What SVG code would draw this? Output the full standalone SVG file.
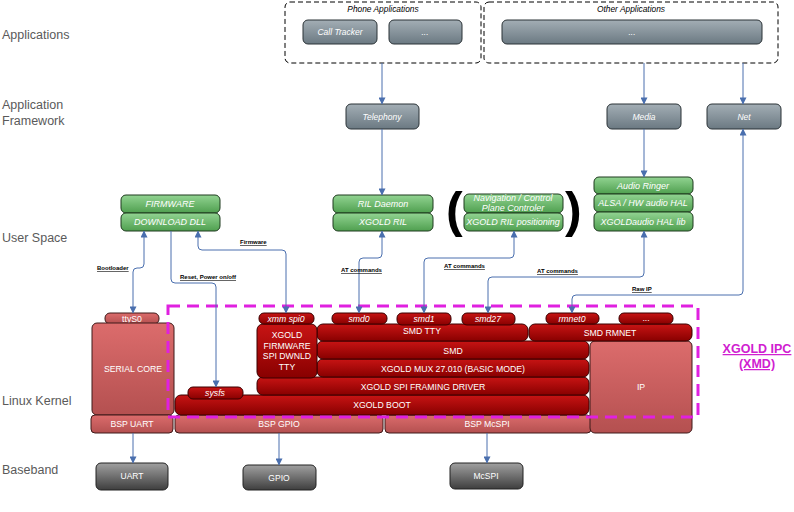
<svg xmlns="http://www.w3.org/2000/svg" width="794" height="512" viewBox="0 0 794 512">
<defs>
<linearGradient id="gApp" x1="0" y1="0" x2="0" y2="1"><stop offset="0" stop-color="#a3aeb5"/><stop offset="1" stop-color="#6b7982"/></linearGradient>
<linearGradient id="gGreen" x1="0" y1="0" x2="0" y2="1"><stop offset="0" stop-color="#92d492"/><stop offset="1" stop-color="#4f9f4f"/></linearGradient>
<linearGradient id="gDark" x1="0" y1="0" x2="0" y2="1"><stop offset="0" stop-color="#c81414"/><stop offset="1" stop-color="#880000"/></linearGradient>
<linearGradient id="gLight" x1="0" y1="0" x2="0" y2="1"><stop offset="0" stop-color="#dc6c6c"/><stop offset="1" stop-color="#b45050"/></linearGradient>
<linearGradient id="gBase" x1="0" y1="0" x2="0" y2="1"><stop offset="0" stop-color="#a0a0a0"/><stop offset="1" stop-color="#3e3e3e"/></linearGradient>
<marker id="ah" viewBox="0 0 8 8" refX="7.5" refY="4" markerWidth="7" markerHeight="7" orient="auto-start-reverse" markerUnits="userSpaceOnUse"><path d="M0,0 L8,4 L0,8 Z" fill="#4a6fae"/></marker>
</defs>
<style>
.lay{font-family:"Liberation Sans",Arial,sans-serif;font-size:12.5px;fill:#5a5a5a}
.app rect{fill:url(#gApp);stroke:#2a3236;stroke-width:1}
.app text{font-family:"Liberation Sans",Arial,sans-serif;font-size:8.5px;font-style:italic;fill:#fff;text-anchor:middle}
.grn rect{fill:url(#gGreen);stroke:#1e3a1e;stroke-width:1}
.grn text{font-family:"Liberation Sans",Arial,sans-serif;font-size:9px;font-style:italic;fill:#fff;text-anchor:middle}
.dk rect{fill:url(#gDark);stroke:#3a0000;stroke-width:1}
.lt rect{fill:url(#gLight);stroke:#3e1a1a;stroke-width:1}
.dk text,.lt text{font-family:"Liberation Sans",Arial,sans-serif;font-size:8.7px;fill:#fff;text-anchor:middle}
.it{font-style:italic}
.bb rect{fill:url(#gBase);stroke:#222;stroke-width:1}
.bb text{font-family:"Liberation Sans",Arial,sans-serif;font-size:8.5px;fill:#fff;text-anchor:middle}
.grp rect{fill:none;stroke:#000;stroke-width:1;stroke-dasharray:5 3}
.grp text{font-family:"Liberation Sans",Arial,sans-serif;font-size:8.4px;font-style:italic;fill:#000;text-anchor:middle}
.con path{fill:none;stroke:#4a6fae;stroke-width:1}
.cl{font-family:"Liberation Sans",Arial,sans-serif;font-size:6px;font-weight:bold;fill:#000;text-decoration:underline}
.par{font-family:"Liberation Sans",Arial,sans-serif;font-size:50px;font-weight:bold;fill:#000}
</style>
<rect width="794" height="512" fill="#fff"/>
<!-- layer labels -->
<text class="lay" x="2" y="39">Applications</text>
<text class="lay" x="2" y="109">Application</text>
<text class="lay" x="2" y="125">Framework</text>
<text class="lay" x="2" y="242">User Space</text>
<text class="lay" x="2" y="405">Linux Kernel</text>
<text class="lay" x="2" y="474">Baseband</text>

<!-- application groups -->
<g id="phone-applications" class="grp"><rect x="285" y="2" width="196" height="61" rx="5"/><text x="383" y="12">Phone Applications</text></g>
<g id="other-applications" class="grp"><rect x="484" y="2" width="294" height="61" rx="5"/><text x="631" y="12">Other Applications</text></g>
<g id="call-tracker" class="app"><rect x="303" y="20" width="74" height="24" rx="5"/><text x="340" y="35">Call Tracker</text></g>
<g id="phone-more" class="app"><rect x="389" y="20" width="73" height="24" rx="5"/><text x="425" y="35">...</text></g>
<g id="other-more" class="app"><rect x="502" y="20" width="260" height="24" rx="5"/><text x="632" y="35">...</text></g>
<g id="telephony" class="app"><rect x="346" y="104" width="73" height="25" rx="5"/><text x="382" y="120">Telephony</text></g>
<g id="media" class="app"><rect x="607" y="104" width="74" height="25" rx="5"/><text x="644" y="120">Media</text></g>
<g id="net" class="app"><rect x="707" y="104" width="74" height="25" rx="5"/><text x="744" y="120">Net</text></g>

<!-- user space -->
<g id="firmware-download-dll" class="grn">
<rect x="121" y="195" width="99" height="18" rx="5"/><text x="170" y="207">FIRMWARE</text>
<rect x="121" y="213" width="99" height="18" rx="5"/><text x="170" y="225">DOWNLOAD DLL</text>
</g>
<g id="xgold-ril" class="grn">
<rect x="333" y="195" width="100" height="18" rx="5"/><text x="383" y="207">RIL Daemon</text>
<rect x="333" y="213" width="100" height="18" rx="5"/><text x="383" y="225">XGOLD RIL</text>
</g>
<g id="ril-positioning" class="grn">
<rect x="464" y="194" width="99" height="19" rx="5"/><text x="513" y="200.5" font-size="8">Navigation / Control</text><text x="513" y="210.5" font-size="8">Plane Controler</text>
<rect x="464" y="213" width="99" height="18" rx="5"/><text x="513" y="225">XGOLD RIL positioning</text>
</g>
<text class="par" x="446" y="227">(</text>
<text class="par" x="565" y="227">)</text>
<g id="audio" class="grn">
<rect x="594" y="177" width="99" height="17" rx="5"/><text x="643" y="188.5">Audio Ringer</text>
<rect x="594" y="194" width="99" height="18" rx="5"/><text x="643" y="206">ALSA  / HW audio HAL</text>
<rect x="594" y="212" width="99" height="19" rx="5"/><text x="643" y="224.5">XGOLDaudio  HAL lib</text>
</g>

<!-- kernel -->
<g id="ttys0" class="lt"><rect x="105" y="313" width="54" height="11" rx="5"/><text x="132" y="321.5">ttyS0</text></g>
<g id="serial-core" class="lt"><rect x="92" y="323" width="82" height="92" rx="5"/><text x="133" y="372">SERIAL CORE</text></g>
<g id="bsp-uart" class="lt"><rect x="91" y="415" width="82" height="18" rx="4"/><text x="132" y="427">BSP UART</text></g>
<g id="bsp-gpio" class="lt"><rect x="175" y="415" width="208" height="18" rx="4"/><text x="279" y="427">BSP GPIO</text></g>
<g id="bsp-mcspi" class="lt"><rect x="385" y="415" width="206" height="18" rx="4"/><text x="487" y="427">BSP McSPI</text></g>
<g id="ip" class="lt"><rect x="590" y="341" width="102" height="92" rx="5"/><text x="641" y="390">IP</text></g>

<g id="xgold-boot" class="dk"><rect x="175" y="395" width="414" height="20" rx="6"/><text x="382" y="408">XGOLD BOOT</text></g>
<g id="sysfs" class="dk"><rect x="188" y="387" width="55" height="12" rx="5"/><text class="it" x="215" y="396">sysfs</text></g>
<g id="xgold-spi-framing" class="dk"><rect x="257" y="377" width="332" height="18" rx="6"/><text x="423" y="389.5">XGOLD SPI FRAMING DRIVER</text></g>
<g id="xgold-mux" class="dk"><rect x="317" y="359" width="272" height="18" rx="6"/><text x="453" y="371.5">XGOLD MUX 27.010 (BASIC MODE)</text></g>
<g id="smd" class="dk"><rect x="317" y="341" width="272" height="18" rx="6"/><text x="453" y="353.5">SMD</text></g>
<g id="smd-tty" class="dk"><rect x="317" y="324" width="211" height="17" rx="6"/><text x="422" y="334">SMD TTY</text></g>
<g id="smd-rmnet" class="dk"><rect x="529" y="324" width="163" height="17" rx="6"/><text x="610" y="335.5">SMD RMNET</text></g>
<g id="firmware-spi-tty" class="dk"><rect x="257" y="324" width="60" height="54" rx="6"/><text x="287" y="338">XGOLD</text><text x="287" y="348.5">FIRMWARE</text><text x="287" y="359">SPI DWNLD</text><text x="287" y="369.5">TTY</text></g>
<g id="xmm-spi0" class="dk"><rect x="259" y="313" width="55" height="11" rx="5"/><text class="it" x="286" y="321.5">xmm spi0</text></g>
<g id="smd0" class="dk"><rect x="332" y="313" width="55" height="11" rx="5"/><text class="it" x="359" y="321.5">smd0</text></g>
<g id="smd1" class="dk"><rect x="397" y="313" width="54" height="12" rx="5"/><text class="it" x="424" y="321.5">smd1</text></g>
<g id="smd27" class="dk"><rect x="462" y="313" width="53" height="12" rx="5"/><text class="it" x="488" y="321.5">smd27</text></g>
<g id="rmnet0" class="dk"><rect x="546" y="313" width="53" height="11" rx="5"/><text class="it" x="572" y="321.5">rmnet0</text></g>
<g id="rmnet-more" class="dk"><rect x="619" y="313" width="54" height="11" rx="5"/><text x="646" y="321">...</text></g>

<!-- baseband -->
<g id="uart" class="bb"><rect x="96" y="463" width="72" height="27" rx="5"/><text x="132" y="479">UART</text></g>
<g id="gpio" class="bb"><rect x="243" y="465" width="73" height="25" rx="5"/><text x="279" y="481">GPIO</text></g>
<g id="mcspi" class="bb"><rect x="450" y="463" width="73" height="26" rx="5"/><text x="486" y="479">McSPI</text></g>

<!-- XGOLD IPC boundary -->
<g id="xgold-ipc">
<rect x="168" y="306" width="530" height="111" fill="none" stroke="#e020e0" stroke-width="3" stroke-dasharray="12 7"/>
<text x="757" y="353" font-family="'Liberation Sans',Arial,sans-serif" font-size="12.5" font-weight="bold" fill="#d020d0" text-anchor="middle" text-decoration="underline">XGOLD IPC</text>
<text x="757" y="368" font-family="'Liberation Sans',Arial,sans-serif" font-size="12.5" font-weight="bold" fill="#d020d0" text-anchor="middle" text-decoration="underline">(XMD)</text>
</g>

<!-- connectors -->
<g id="connectors" class="con">
<path d="M382,63 V104" marker-end="url(#ah)"/>
<path d="M644,63 V104" marker-end="url(#ah)"/>
<path d="M743,63 V104" marker-end="url(#ah)"/>
<path d="M382,129 V195" marker-end="url(#ah)"/>
<path d="M644,129 V177" marker-end="url(#ah)"/>
<path d="M144,231 V264 Q144,268 140,268 H137 Q133,268 133,272 V313" marker-start="url(#ah)" marker-end="url(#ah)"/>
<path d="M171,231 V279 Q171,283 175,283 H212 Q216,283 216,287 V387" marker-end="url(#ah)"/>
<path d="M198,231 V246 Q198,250 202,250 H282 Q286,250 286,254 V313" marker-start="url(#ah)" marker-end="url(#ah)"/>
<path d="M382,231 V254 Q382,258 378,258 H363 Q359,258 359,262 V313" marker-start="url(#ah)" marker-end="url(#ah)"/>
<path d="M514,231 V254 Q514,258 510,258 H428 Q424,258 424,262 V313" marker-start="url(#ah)" marker-end="url(#ah)"/>
<path d="M644,231 V273 Q644,277 640,277 H492 Q488,277 488,281 V313" marker-start="url(#ah)" marker-end="url(#ah)"/>
<path d="M743,129 V291 Q743,295 739,295 H576 Q572,295 572,299 V313" marker-start="url(#ah)" marker-end="url(#ah)"/>
<path d="M133,433 V463" marker-end="url(#ah)"/>
<path d="M279,433 V465" marker-end="url(#ah)"/>
<path d="M487,433 V463" marker-end="url(#ah)"/>
<text class="cl" x="97" y="270">Bootloader</text>
<text class="cl" x="180" y="279">Reset, Power on/off</text>
<text class="cl" x="240" y="244">Firmware</text>
<text class="cl" x="341" y="272">AT commands</text>
<text class="cl" x="444" y="268">AT commands</text>
<text class="cl" x="537" y="273">AT commands</text>
<text class="cl" x="632" y="291">Raw IP</text>
</g>
</svg>
